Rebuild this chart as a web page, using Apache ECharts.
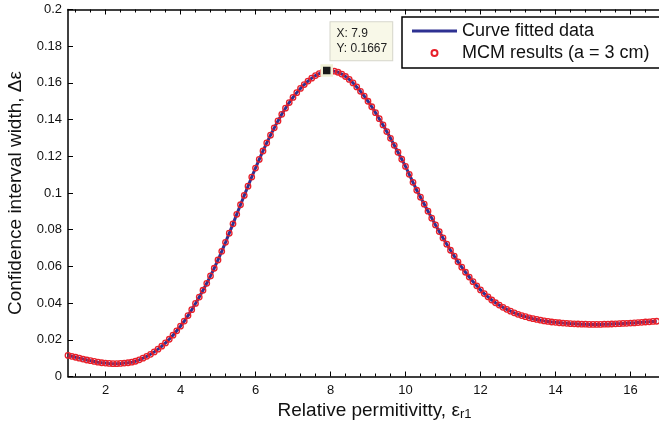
<!DOCTYPE html>
<html><head><meta charset="utf-8">
<script src="https://cdn.jsdelivr.net/npm/echarts@6/dist/echarts.min.js"></script>
<style>html,body{margin:0;padding:0;background:#fff}#c{width:659px;height:424px}</style>
</head><body><div id="c"></div>
<script>
// Relative permittivity values (x)
const permittivity = [
 1.0,1.1,1.2,1.3,1.4,1.5,1.6,1.7,1.8,1.9,
 2.0,2.1,2.2,2.3,2.4,2.5,2.6,2.7,2.8,2.9,
 3.0,3.1,3.2,3.3,3.4,3.5,3.6,3.7,3.8,3.9,
 4.0,4.1,4.2,4.3,4.4,4.5,4.6,4.7,4.8,4.9,
 5.0,5.1,5.2,5.3,5.4,5.5,5.6,5.7,5.8,5.9,
 6.0,6.1,6.2,6.3,6.4,6.5,6.6,6.7,6.8,6.9,
 7.0,7.1,7.2,7.3,7.4,7.5,7.6,7.7,7.8,7.9,
 8.0,8.1,8.2,8.3,8.4,8.5,8.6,8.7,8.8,8.9,
 9.0,9.1,9.2,9.3,9.4,9.5,9.6,9.7,9.8,9.9,
 10.0,10.1,10.2,10.3,10.4,10.5,10.6,10.7,10.8,10.9,
 11.0,11.1,11.2,11.3,11.4,11.5,11.6,11.7,11.8,11.9,
 12.0,12.1,12.2,12.3,12.4,12.5,12.6,12.7,12.8,12.9,
 13.0,13.1,13.2,13.3,13.4,13.5,13.6,13.7,13.8,13.9,
 14.0,14.1,14.2,14.3,14.4,14.5,14.6,14.7,14.8,14.9,
 15.0,15.1,15.2,15.3,15.4,15.5,15.6,15.7,15.8,15.9,
 16.0,16.1,16.2,16.3,16.4,16.5,16.6,16.7
];
// MCM confidence interval width (y)
const ciWidth = [
 0.0115,0.0110,0.0105,0.0100,0.0095,0.0090,0.0086,0.0082,0.0078,0.0075,
 0.0073,0.0071,0.0070,0.0070,0.0071,0.0073,0.0075,0.0078,0.0083,0.0091,
 0.0100,0.0110,0.0121,0.0134,0.0149,0.0165,0.0183,0.0203,0.0225,0.0249,
 0.0274,0.0302,0.0332,0.0364,0.0398,0.0433,0.0470,0.0508,0.0548,0.0590,
 0.0635,0.0682,0.0731,0.0781,0.0832,0.0884,0.0936,0.0987,0.1037,0.1087,
 0.1136,0.1183,0.1229,0.1273,0.1315,0.1355,0.1393,0.1429,0.1462,0.1493,
 0.1521,0.1547,0.1570,0.1591,0.1610,0.1626,0.1640,0.1651,0.1660,0.1667,
 0.1666,0.1664,0.1658,0.1648,0.1635,0.1619,0.1600,0.1578,0.1554,0.1528,
 0.1500,0.1470,0.1438,0.1405,0.1371,0.1335,0.1298,0.1260,0.1222,0.1184,
 0.1145,0.1102,0.1058,0.1015,0.0977,0.0939,0.0901,0.0863,0.0826,0.0790,
 0.0755,0.0721,0.0688,0.0656,0.0625,0.0596,0.0568,0.0542,0.0517,0.0494,
 0.0472,0.0452,0.0434,0.0417,0.0402,0.0389,0.0377,0.0366,0.0356,0.0347,
 0.0339,0.0332,0.0326,0.0320,0.0315,0.0311,0.0307,0.0303,0.0300,0.0297,
 0.0295,0.0293,0.0291,0.0290,0.0288,0.0287,0.0286,0.0285,0.0285,0.0284,
 0.0284,0.0284,0.0284,0.0285,0.0285,0.0286,0.0287,0.0288,0.0289,0.0290,
 0.0291,0.0292,0.0294,0.0295,0.0297,0.0298,0.0300,0.0301
];
const xMajorTicks = [2,4,6,8,10,12,14,16];
const xMinorTicks = [1.2,1.6,2.4,2.8,3.2,3.6,4.4,4.8,5.2,5.6,6.4,6.8,7.2,7.6,8.4,8.8,9.2,9.6,10.4,10.8,11.2,11.6,12.4,12.8,13.2,13.6,14.4,14.8,15.2,15.6,16.4];
const yTicks = [0,0.02,0.04,0.06,0.08,0.1,0.12,0.14,0.16,0.18,0.2];
const tipX = 7.9, tipY = 0.1667;
const seriesNames = ['Curve fitted data', 'MCM results (a = 3 cm)'];

const pts = permittivity.map((x, i) => [x, ciWidth[i]]);
const FONT = '"Liberation Sans", Arial, Helvetica, sans-serif';
const X_MIN = 1, X_MAX = 16.76;

function xAx(pos, ticks, len, showLine, extra) {
  return Object.assign({
    type: 'value', min: X_MIN, max: X_MAX, position: pos,
    axisLine: { show: showLine, onZero: false, lineStyle: { color: '#000', width: 1.5 } },
    axisTick: { show: true, inside: true, length: len, customValues: ticks, lineStyle: { color: '#000', width: 1 } },
    axisLabel: { show: false },
    splitLine: { show: false }
  }, extra || {});
}

const chart = echarts.init(document.getElementById('c'), null, { renderer: 'canvas' });
chart.setOption({
  animation: false,
  backgroundColor: '#fff',
  textStyle: { fontFamily: FONT },
  grid: { left: 68, right: 0, top: 9.5, bottom: 47.5, containLabel: false, outerBoundsMode: 'none' },
  xAxis: [
    xAx('bottom', xMajorTicks, 5, true, {
      axisLabel: { show: true, customValues: xMajorTicks, margin: 7, fontSize: 13, color: '#111', fontFamily: FONT },
      name: 'Relative permitivitty, {e|ε}{s|r1}',
      nameLocation: 'middle', nameGap: 21,
      nameTextStyle: { fontSize: 19, color: '#111', fontFamily: FONT, padding: [0, 0, 0, 22],
        rich: { e: { fontSize: 19, color: '#111', fontFamily: FONT }, s: { fontSize: 13, color: '#111', fontFamily: FONT, padding: [8, 0, 0, 0] } } }
    }),
    xAx('bottom', xMinorTicks, 3, false),
    xAx('top', xMajorTicks, 5, true),
    xAx('top', xMinorTicks, 3, false)
  ],
  yAxis: {
    type: 'value', min: 0, max: 0.2, interval: 0.02,
    axisLine: { show: true, onZero: false, lineStyle: { color: '#000', width: 1.5 } },
    axisTick: { show: true, inside: true, length: 5, customValues: yTicks, lineStyle: { color: '#000', width: 1 } },
    axisLabel: { customValues: yTicks, margin: 6, fontSize: 13, color: '#111', fontFamily: FONT },
    splitLine: { show: false },
    name: 'Confidence interval width, Δε',
    nameLocation: 'middle', nameGap: 43,
    nameTextStyle: { fontSize: 19, color: '#111', fontFamily: FONT }
  },
  legend: {
    orient: 'vertical', left: 402, top: 17,
    padding: [5, 40, 6, 10], itemWidth: 45, itemHeight: 6, itemGap: 4,
    borderColor: '#000', borderWidth: 1.5, backgroundColor: '#fff',
    selectedMode: false,
    textStyle: { fontSize: 18, color: '#111', fontFamily: FONT },
    data: [
      { name: seriesNames[0], icon: 'path://M0,0H45V3H0Z', itemStyle: { color: '#2e3192' } },
      { name: seriesNames[1], icon: 'circle' }
    ]
  },
  series: [
    {
      name: seriesNames[0], type: 'line', data: pts, symbol: 'none', xAxisIndex: 0,
      color: '#2e3192',
      lineStyle: { color: '#2e3192', width: 3 }, z: 2
    },
    {
      name: seriesNames[1], type: 'scatter', data: pts, xAxisIndex: 0,
      symbol: 'circle', symbolSize: 5.5,
      itemStyle: { color: 'rgba(255,255,255,0)', borderColor: '#e8202a', borderWidth: 1.3, opacity: 1 },
      z: 3,
      markPoint: {
        symbol: 'rect', symbolSize: 10,
        itemStyle: { color: '#1a1a1a', borderColor: '#f1f1d6', borderWidth: 2.5 },
        label: {
          show: true, position: [10, -42], align: 'left', verticalAlign: 'top',
          formatter: 'X: ' + tipX + '\nY: ' + tipY,
          backgroundColor: '#f8f8e8', borderColor: '#d6d6cc', borderWidth: 1,
          padding: [4, 5, 4, 6], fontSize: 12, lineHeight: 15, color: '#222', fontFamily: FONT
        },
        data: [{ coord: [tipX, tipY] }]
      }
    }
  ]
});
</script>
</body></html>
